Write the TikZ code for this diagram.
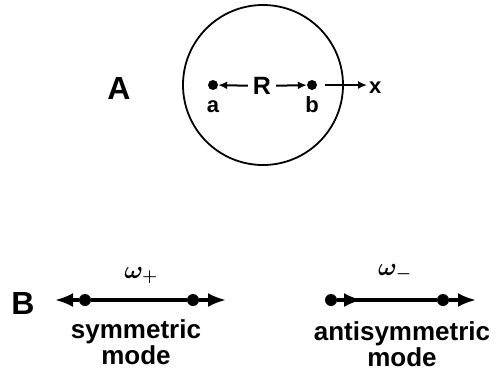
\documentclass[tikz,border=0pt]{standalone}
\usepackage{fontspec}
\usepackage{bm}
\setmainfont{Liberation Sans}
\usetikzlibrary{arrows.meta}
\tikzset{
  pont/.style={circle,fill,inner sep=0pt,minimum size=10pt},
  npont/.style={circle,fill,inner sep=0pt,minimum size=12pt},
  kor/.style={circle,draw,line width=1.8pt,minimum size=160pt,inner sep=0pt},
  nyil/.style={-{Latex[length=9pt,width=8pt]},line width=2pt},
  vnyil/.style={-{Latex[length=18pt,width=14pt]},line width=3.2pt},
  rud/.style={line width=3.2pt},
  cimke/.style={anchor=base,inner sep=1pt},
  kicsi/.style={font=\fontsize{22}{26}\selectfont\bfseries},
  betu/.style={font=\fontsize{32}{36}\selectfont\bfseries},
}

\begin{document}
\begin{tikzpicture}[x=1pt,y=-1pt,font=\fontsize{26}{24}\selectfont\bfseries]
  \useasboundingbox (0,0) rectangle (496,373);
  % A: the two centres in a sphere
  \node[kor] (gomb) at (263,85) {};
  \node[cimke,betu] (A) at (119,99) {A};
  \node[pont] (a) at (213,85) {};
  \node[pont] (b) at (312,85) {};
  \node[font=\fontsize{25}{30}\selectfont\bfseries,inner sep=5pt] (R) at (262,86) {R};
  \node[cimke,kicsi] (alab) at (213,112) {a};
  \node[cimke,kicsi] (blab) at (312,112) {b};
  \node[cimke,kicsi,anchor=base west,inner sep=2pt] (xlab) at (367,93) {x};
  \draw[nyil] (R) -- (a);
  \draw[nyil] (R) -- (b);
  \draw[nyil,shorten <=8pt] (b) -- (b -| xlab.west);

  % B: the two modes
  \node[cimke,betu] (B) at (23,314) {B};
  \node[npont] (s1) at (85,300) {};
  \node[npont] (s2) at (193,300) {};
  \coordinate (s1v) at (55,300);
  \coordinate (s2v) at (226,300);
  \draw[rud] (s1) -- (s2);
  \draw[vnyil] (s1) -- (s1v);
  \draw[vnyil] (s2) -- (s2v);
  \node[cimke] (omp) at (141,278) {$\bm{\omega}_{\bm{+}}$};
  \node[cimke,align=center] (sym) at (136,364) {symmetric\\mode};

  \node[npont] (t1) at (331,300) {};
  \node[npont] (t2) at (443,300) {};
  \coordinate (t1v) at (362,300);
  \coordinate (t2v) at (476,300);
  \draw[rud] (t1) -- (t2);
  \draw[vnyil] (t1) -- (t1v);
  \draw[vnyil] (t2) -- (t2v);
  \node[cimke] (omm) at (395,275) {$\bm{\omega}_{\bm{-}}$};
  \node[cimke,align=center] (asym) at (402,366) {antisymmetric\\mode};
\end{tikzpicture}
\end{document}
